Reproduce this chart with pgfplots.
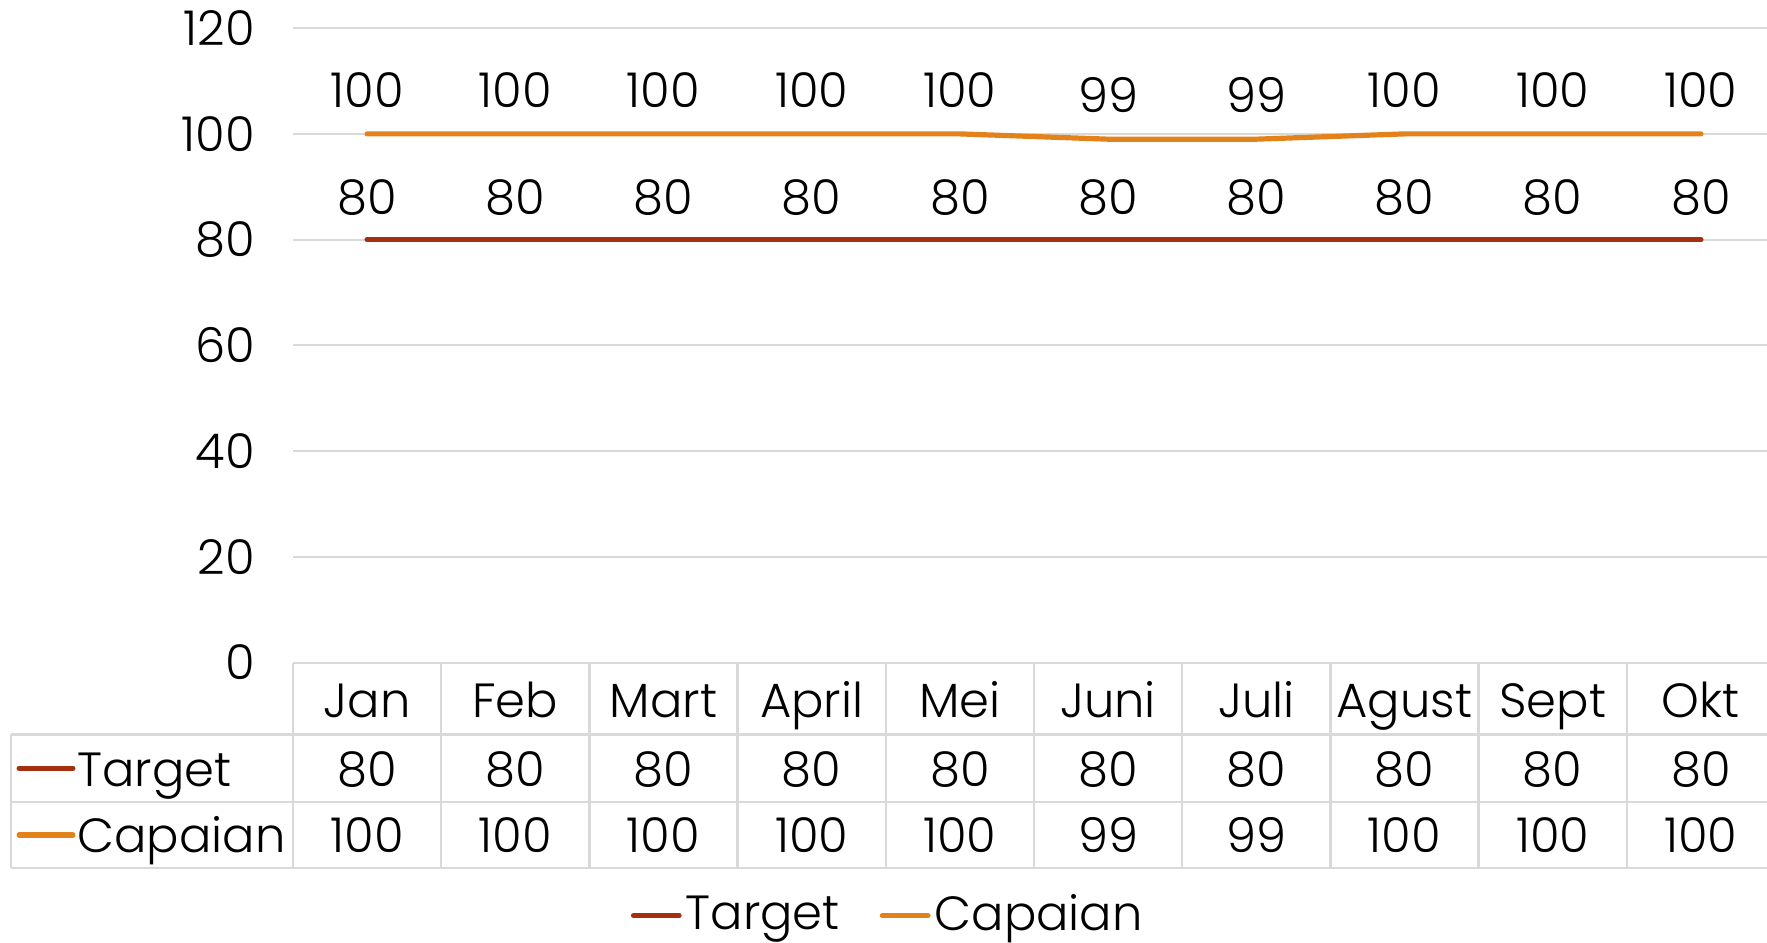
\documentclass[border=0pt]{standalone}
\usepackage{pgfplots}
\usepackage{pgfplotstable}
\pgfplotsset{compat=1.18}
\usepackage{fontspec}
\setmainfont{Poppins}[UprightFont=* Light]
\definecolor{tgtcol}{HTML}{A5300F}
\definecolor{capcol}{HTML}{E3821A}
\definecolor{grd}{HTML}{D9D9D9}
\pgfplotstableread{
x month target capaian
0 Jan 80 100
1 Feb 80 100
2 Mart 80 100
3 April 80 100
4 Mei 80 100
5 Juni 80 99
6 Juli 80 99
7 Agust 80 100
8 Sept 80 100
9 Okt 80 100
}\datatable
\begin{document}
\begin{tikzpicture}
\begin{axis}[
  scale only axis,
  width=370.5pt, height=158.6pt,
  xmin=-0.5, xmax=9.5, ymin=0, ymax=120,
  axis line style={draw=none},
  clip=false,
  ytick={0,20,...,120},
  xtick=\empty,
  ymajorgrids,
  grid style={grd, line width=0.5pt},
  major tick length=0pt,
  /pgf/number format/assume math mode=true,
  tick label style={font=\fontsize{12}{14}\selectfont},
  yticklabel style={xshift=-6pt},
  legend style={at={(0.402,-0.399)}, anchor=center, draw=none, legend columns=2,
    font=\fontsize{12}{14}\selectfont, column sep=0pt, inner sep=0pt,
    nodes={inner xsep=1pt},
    /tikz/every even column/.append style={column sep=9pt}},
  legend image code/.code={\draw[#1, line width=1.3pt, line cap=round] (0.6pt,0pt) -- (12pt,0pt);},
  every node near coord/.append style={font=\fontsize{12}{14}\selectfont, text=black},
]
% table grid
\draw[grd, line width=0.6pt] (axis cs:-2.403,-13.6) -- (axis cs:9.5,-13.6);
\draw[grd, line width=0.6pt] (axis cs:-2.403,-26.4) -- (axis cs:9.5,-26.4);
\draw[grd, line width=0.6pt] (axis cs:-2.403,-38.8) -- (axis cs:9.5,-38.8);
\draw[grd, line width=0.6pt] (axis cs:-2.403,-13.6) -- (axis cs:-2.403,-38.8);
\foreach \k in {-0.5,0.5,1.5,2.5,3.5,4.5,5.5,6.5,7.5,8.5,9.5}{
  \edef\tmp{\noexpand\draw[grd, line width=0.6pt] (axis cs:\k,0) -- (axis cs:\k,-38.8);}\tmp
}
\addplot[tgtcol, line width=1.3pt, line cap=round,
  nodes near coords, point meta=explicit,
  every node near coord/.append style={anchor=base, inner sep=0pt, yshift=6.4pt}]
  table[x=x, y=target, meta=target] {\datatable};
\addlegendentry{Target}
\addplot[capcol, line width=1.3pt, line cap=round,
  nodes near coords, point meta=explicit,
  every node near coord/.append style={anchor=base, inner sep=0pt, yshift=6.6pt}]
  table[x=x, y=capaian, meta=capaian] {\datatable};
\addlegendentry{Capaian}
% table contents
\addplot[draw=none, forget plot, nodes near coords, point meta=explicit symbolic,
  every node near coord/.append style={anchor=base, inner sep=0pt}]
  table[x=x, y expr=-10.44, meta=month] {\datatable};
\addplot[draw=none, forget plot, nodes near coords, point meta=explicit,
  every node near coord/.append style={anchor=base, inner sep=0pt}]
  table[x=x, y expr=-23.4, meta=target] {\datatable};
\addplot[draw=none, forget plot, nodes near coords, point meta=explicit,
  every node near coord/.append style={anchor=base, inner sep=0pt}]
  table[x=x, y expr=-36.0, meta=capaian] {\datatable};
\draw[tgtcol, line width=1.3pt, line cap=round] (axis cs:-2.348,-20) -- (axis cs:-1.985,-20);
\draw[capcol, line width=1.3pt, line cap=round] (axis cs:-2.348,-32.6) -- (axis cs:-1.985,-32.6);
\node[anchor=base west, inner sep=0pt, font=\fontsize{12}{14}\selectfont] at (axis cs:-1.96,-23.4) {Target};
\node[anchor=base west, inner sep=0pt, font=\fontsize{12}{14}\selectfont] at (axis cs:-1.96,-36.0) {Capaian};
\coordinate (bbl) at (rel axis cs:-0.1977,-0.4418);
\coordinate (btr) at (rel axis cs:0.9946,1.0444);
\end{axis}
\pgfresetboundingbox
\path[use as bounding box] (bbl) rectangle (btr);
\end{tikzpicture}
\end{document}
